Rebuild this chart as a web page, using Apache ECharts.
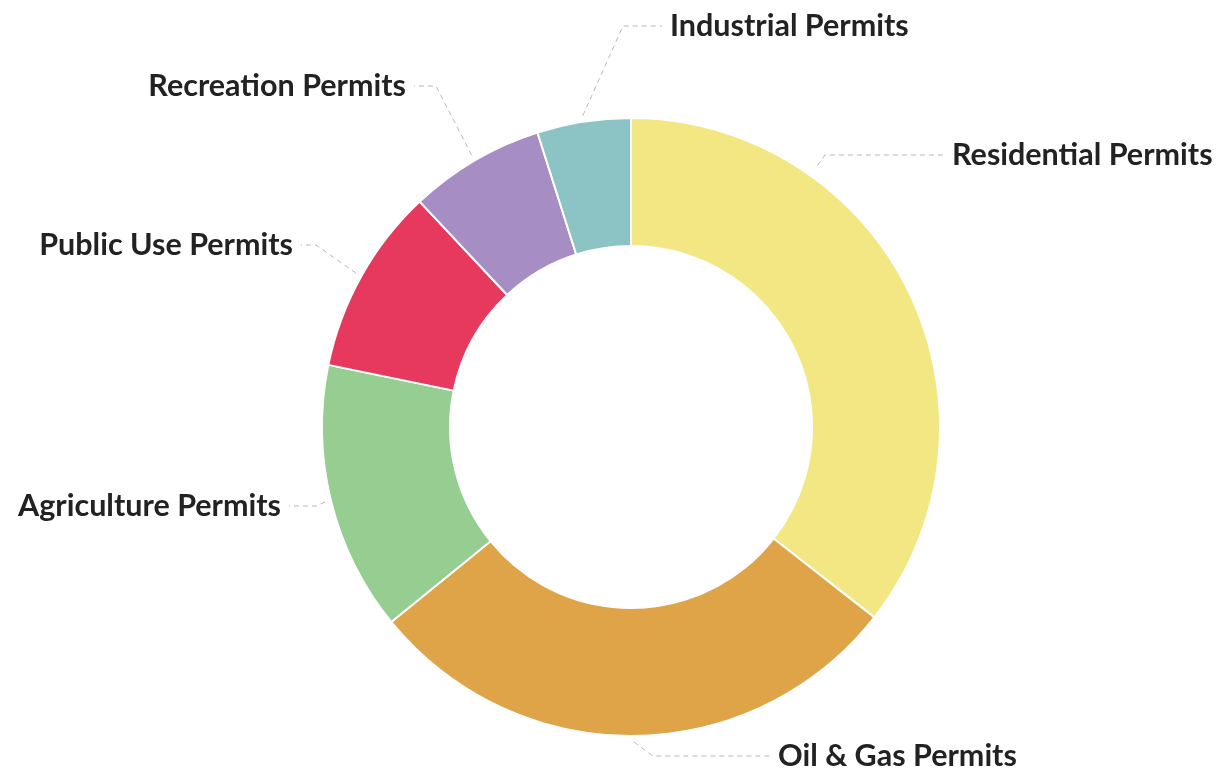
<!DOCTYPE html>
<html>
<head>
<meta charset="utf-8">
<script src="https://cdn.jsdelivr.net/npm/echarts@6/dist/echarts.min.js"></script>
<style>
  html, body { margin: 0; padding: 0; background: #fff; }
  #chart { width: 1219px; height: 772px; }
</style>
</head>
<body>
<div id="chart"></div>
<script>
// data (share of permits, %)
var categories = ['Residential Permits', 'Oil & Gas Permits', 'Agriculture Permits',
                  'Public Use Permits', 'Recreation Permits', 'Industrial Permits'];
var values = [35.6, 28.6, 14.1, 9.8, 7.1, 4.9];
var colors = ['#f2e783', '#dea447', '#96cd90', '#e6395d', '#a68ec5', '#8cc3c4'];

// where each label sits (layout only)
var CX = 631, CY = 427, R_IN = 181, R_OUT = 309;
var labelSpots = [
    { side: 'right', x: 952, y: 155, bendX: 825, fromBend: true },
    { side: 'right', x: 778, y: 756, bendX: 653 },
    { side: 'left',  x: 281, y: 506, bendX: 316 },
    { side: 'left',  x: 293, y: 245, bendX: 316 },
    { side: 'left',  x: 406, y: 86,  bendX: 436 },
    { side: 'right', x: 670, y: 26,  bendX: 623 }
];

var chart = echarts.init(document.getElementById('chart'));

var pieData = categories.map(function (name, i) {
    return { name: name, value: values[i], itemStyle: { color: colors[i] } };
});

function placeLabel(params) {
    var spot = labelSpots[params.dataIndex];
    var lineY = spot.y;
    var start;
    if (spot.fromBend || !params.labelLinePoints) {
        var dx = spot.bendX - CX, dy = lineY - CY;
        var len = Math.sqrt(dx * dx + dy * dy);
        start = [CX + dx / len * (R_OUT + 12), CY + dy / len * (R_OUT + 12)];
    } else {
        var p = params.labelLinePoints[0];
        var ax = p[0] - CX, ay = p[1] - CY;
        var al = Math.sqrt(ax * ax + ay * ay);
        start = [p[0] + ax / al * 6, p[1] + ay / al * 6];
    }
    var endX = spot.side === 'right' ? spot.x - 8 : spot.x + 8;
    return {
        x: spot.x,
        y: spot.y,
        align: spot.side === 'right' ? 'left' : 'right',
        verticalAlign: 'middle',
        labelLinePoints: [start, [spot.bendX, lineY], [endX, lineY]]
    };
}

var option = {
    backgroundColor: '#fff',
    animation: false,
    series: [{
        type: 'pie',
        center: [CX, CY],
        radius: [R_IN, R_OUT],
        startAngle: 90,
        clockwise: true,
        avoidLabelOverlap: false,
        itemStyle: { borderColor: '#fff', borderWidth: 2 },
        label: {
            show: true,
            position: 'outside',
            formatter: '{b}',
            color: '#222',
            fontFamily: 'Lato',
            fontWeight: 'bold',
            fontSize: 30.5
        },
        labelLine: {
            show: true,
            length: 20,
            length2: 20,
            lineStyle: { color: '#b8b8b8', width: 1, type: [5, 4] }
        },
        labelLayout: placeLabel,
        emphasis: { disabled: true },
        data: pieData
    }]
};

chart.setOption(option);
</script>
</body>
</html>
